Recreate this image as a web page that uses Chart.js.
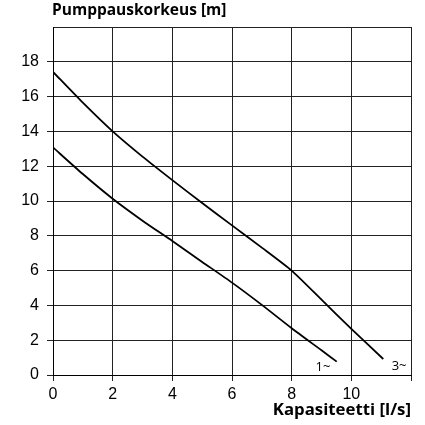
<!DOCTYPE html>
<html>
<head>
<meta charset="utf-8">
<script src="https://cdn.jsdelivr.net/npm/chart.js@4/dist/chart.umd.min.js"></script>
<style>
html,body{margin:0;padding:0;background:#fff;}
#wrap{width:425px;height:425px;position:relative;}
</style>
</head>
<body>
<div id="wrap"><canvas id="c"></canvas></div>
<script>
// Data
const seriesNames = ["1~", "3~"];
const flow1 = [0, 1, 2, 3, 4, 5, 6, 7, 8, 9, 9.51];
const head1 = [13.08, 11.55, 10.13, 8.87, 7.7, 6.5, 5.31, 4.03, 2.69, 1.42, 0.77];
const flow3 = [0, 1, 2, 3, 4, 5, 6, 7, 8, 9, 10, 11.07];
const head3 = [17.42, 15.65, 14.0, 12.55, 11.2, 9.88, 8.6, 7.32, 6.0, 4.33, 2.65, 0.92];
const xTicks = [0, 2, 4, 6, 8, 10];
const yTicks = [0, 2, 4, 6, 8, 10, 12, 14, 16, 18];
const xTitle = "Kapasiteetti [l/s]";
const yTitle = "Pumppauskorkeus [m]";
// curve label anchor values (data units)
const labelX = [9.05, 11.6];
const labelY = [0.42, 0.5];

const toPts = (xs, ys) => xs.map((x, i) => ({x: x, y: ys[i]}));

const titlesPlugin = {
  id: 'titles',
  afterDraw(chart) {
    const ctx = chart.ctx;
    const a = chart.chartArea;
    const xs = chart.scales.x, ys = chart.scales.y;
    ctx.save();
    ctx.fillStyle = '#000';
    ctx.textBaseline = 'middle';
    ctx.textAlign = 'left';
    ctx.font = 'bold 15.5px "Open Sans"';
    ctx.fillText(yTitle, a.left - 1, 11);
    ctx.textAlign = 'right';
    ctx.font = 'bold 16.8px "Open Sans"';
    ctx.fillText(xTitle, a.right, 410);
    ctx.font = '13px "Open Sans"';
    ctx.textAlign = 'center';
    for (let i = 0; i < seriesNames.length; i++) {
      ctx.fillText(seriesNames[i], xs.getPixelForValue(labelX[i]), ys.getPixelForValue(labelY[i]));
    }
    ctx.restore();
  }
};

new Chart(document.getElementById('c'), {
  type: 'line',
  data: {
    datasets: [
      {label: seriesNames[0], data: toPts(flow1, head1), borderColor: '#000', borderWidth: 1.8, pointRadius: 0, tension: 0.2, fill: false},
      {label: seriesNames[1], data: toPts(flow3, head3), borderColor: '#000', borderWidth: 1.8, pointRadius: 0, tension: 0.2, fill: false}
    ]
  },
  options: {
    responsive: true,
    maintainAspectRatio: false,
    animation: false,
    layout: {padding: {left: 0, right: 14, top: 27, bottom: 0}},
    plugins: {legend: {display: false}, tooltip: {enabled: false}, title: {display: false}},
    scales: {
      x: {
        type: 'linear', min: 0, max: 12,
        afterFit(s) { s.height = 50; },
        afterBuildTicks(s) { s.ticks = [...xTicks, 12].map(v => ({value: v})); },
        ticks: {
          color: '#000', font: {family: 'Liberation Sans, Arial, sans-serif', size: 16}, padding: 4,
          callback: v => xTicks.includes(v) ? String(v) : ''
        },
        grid: {color: '#222', lineWidth: 1, tickLength: 6, tickColor: '#222'},
        border: {color: '#000', width: 1}
      },
      y: {
        type: 'linear', min: 0, max: 20,
        afterFit(s) { s.width = 53; },
        afterBuildTicks(s) { s.ticks = [...yTicks, 20].map(v => ({value: v})); },
        ticks: {
          color: '#000', font: {family: 'Liberation Sans, Arial, sans-serif', size: 16}, padding: 8,
          callback: v => yTicks.includes(v) ? String(v) : ''
        },
        grid: {color: '#222', lineWidth: 1, tickLength: 6,
          tickColor: c => (c.tick && c.tick.value === 20) ? 'rgba(0,0,0,0)' : '#222'},
        border: {color: '#000', width: 1}
      }
    }
  },
  plugins: [titlesPlugin]
});
</script>
</body>
</html>
